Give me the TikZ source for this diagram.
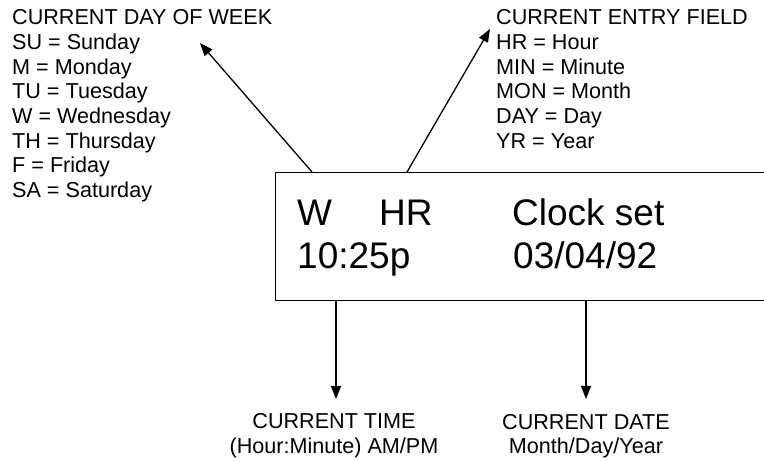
\documentclass[tikz,border=0pt]{standalone}
\usepackage{fontspec}
\setmainfont{Liberation Sans}
\usetikzlibrary{arrows.meta}
\begin{document}
\begin{tikzpicture}[x=1pt,y=-1pt,
  small/.style={font=\fontsize{21.6}{24.7}\selectfont, inner sep=0pt},
  big/.style={font=\fontsize{37}{43}\selectfont, inner sep=0pt, anchor=base west},
  conn/.style={line width=1.3pt, -{Triangle[length=13pt,width=10pt]}},
  panel/.style={draw, line width=1.3pt, inner sep=0pt, anchor=north west}]
\useasboundingbox (0,0) rectangle (764,462);
\clip (0,0) rectangle (764,462);
\fill[white] (0,0) rectangle (764,462);
% display panel (right edge runs off the picture)
\node[panel, minimum width=540pt, minimum height=128pt] (display) at (275,172) {};
\node[big] (w) at (297,226) {W};
\node[big] (hr) at (379,226) {HR};
\node[big] (clockset) at (512,226) {Clock set};
\node[big] (time) at (297,269) {10:25p};
\node[big] (date) at (513,269) {03/04/92};
% text blocks
\node[small, align=left, anchor=north west] (dayblock) at (12,9.5) {CURRENT DAY OF WEEK\\SU = Sunday\\M = Monday\\TU = Tuesday\\W = Wednesday\\TH = Thursday\\F = Friday\\SA = Saturday};
\node[small, align=left, anchor=north west] (fieldblock) at (496,9.5) {CURRENT ENTRY FIELD\\HR = Hour\\MIN = Minute\\MON = Month\\DAY = Day\\YR = Year};
\node[small, align=center, anchor=north] (timeblock) at (334,413.5) {CURRENT TIME\\(Hour:Minute) AM/PM};
\node[small, align=center, anchor=north] (dateblock) at (586,414) {CURRENT DATE\\Month/Day/Year};
% connector ends
\coordinate (dayfoot) at (312,172);
\coordinate (daytip) at (200,43);
\coordinate (fieldfoot) at (407,172);
\coordinate (fieldtip) at (490,29);
\coordinate (timefoot) at (336,300);
\coordinate (timetip) at (336,399);
\coordinate (datefoot) at (586,300);
\coordinate (datetip) at (586,399);
\draw[conn] (dayfoot) -- (daytip);
\draw[conn] (fieldfoot) -- (fieldtip);
\draw[conn] (timefoot) -- (timetip);
\draw[conn] (datefoot) -- (datetip);
\end{tikzpicture}
\end{document}
